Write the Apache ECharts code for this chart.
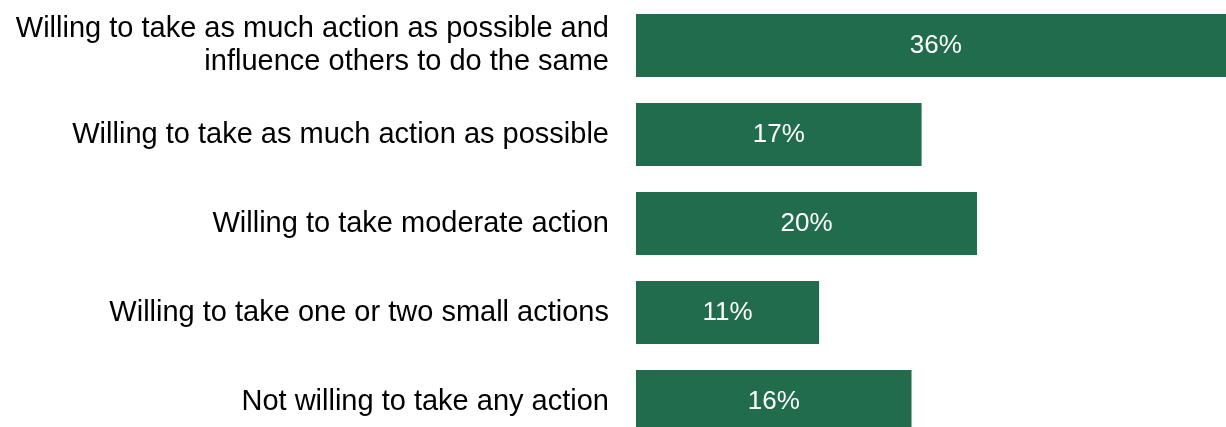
<!DOCTYPE html>
<html>
<head>
<meta charset="utf-8">
<script src="https://cdn.jsdelivr.net/npm/echarts@6/dist/echarts.min.js"></script>
<style>
  html, body { margin: 0; padding: 0; background: #fff; }
  #chart { width: 1226px; height: 427px; }
</style>
</head>
<body>
<div id="chart"></div>
<script>
// categories top to bottom
const categories = [
  'Willing to take as much action as possible and\ninfluence others to do the same',
  'Willing to take as much action as possible',
  'Willing to take moderate action',
  'Willing to take one or two small actions',
  'Not willing to take any action'
];
// share of respondents (%), labels shown rounded
const shares = [35.7, 17.0, 20.3, 10.9, 16.4];

const chart = echarts.init(document.getElementById('chart'));
chart.setOption({
  animation: false,
  grid: {
    left: 636, right: -82, top: 1, bottom: -19,
    outerBoundsMode: 'none',
    containLabel: false
  },
  xAxis: {
    type: 'value',
    min: 0,
    max: 40,
    show: false,
    splitLine: { show: false }
  },
  yAxis: {
    type: 'category',
    data: categories,
    inverse: true,
    axisLine: { show: false },
    axisTick: { show: false },
    axisLabel: {
      color: '#000',
      fontFamily: 'Liberation Sans, Arial, sans-serif',
      fontSize: 29,
      lineHeight: 33,
      align: 'right',
      margin: 27
    }
  },
  series: [
    {
      type: 'bar',
      data: shares,
      barCategoryGap: '29%',
      itemStyle: { color: '#216c4c' },
      label: {
        show: true,
        position: 'inside',
        color: '#fff',
        fontFamily: 'Liberation Sans, Arial, sans-serif',
        fontSize: 26,
        formatter: p => Math.round(p.value) + '%'
      }
    }
  ]
});
</script>
</body>
</html>
